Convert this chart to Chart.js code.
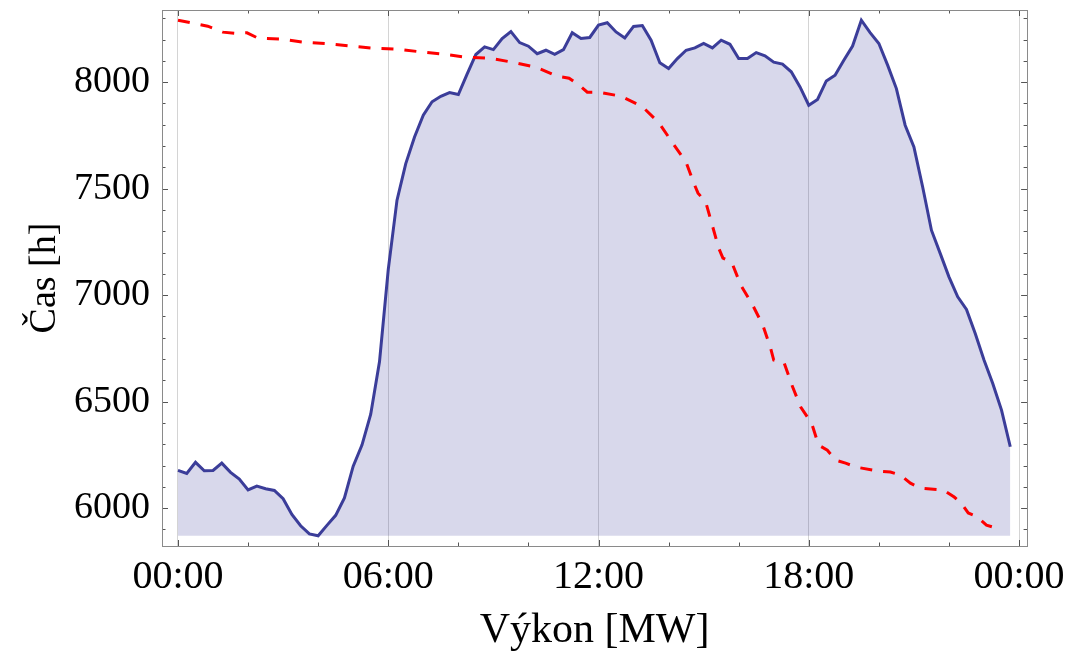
<!DOCTYPE html>
<html>
<head>
<meta charset="utf-8">
<script src="https://cdn.jsdelivr.net/npm/chart.js@4/dist/chart.umd.min.js"></script>
<style>
  html, body { margin: 0; padding: 0; background: #fff; }
  #wrap { width: 1072px; height: 656px; position: relative; }
</style>
</head>
<body>
<div id="wrap"><canvas id="chart"></canvas></div>
<script>
/* ── Données ── */
// Courbe bleue : pas de 15 min sur 24 h
const blueValues = [
  6177, 6163, 6215, 6175, 6177, 6211, 6168, 6136, 6085, 6103, 6091, 6083,
  6044, 5970, 5917, 5879, 5870, 5919, 5966, 6048, 6197, 6296, 6441, 6687,
  7120, 7446, 7618, 7743, 7845, 7908, 7934, 7951, 7942, 8038, 8130, 8166,
  8153, 8205, 8238, 8186, 8169, 8134, 8150, 8131, 8153, 8232, 8205, 8210,
  8268, 8279, 8236, 8208, 8262, 8266, 8197, 8091, 8064, 8111, 8150, 8161,
  8182, 8161, 8197, 8178, 8111, 8111, 8139, 8124, 8094, 8085, 8049, 7978,
  7892, 7919, 8006, 8033, 8103, 8170, 8291, 8233, 8182, 8080, 7970, 7798,
  7696, 7508, 7305, 7196, 7086, 6992, 6933, 6820, 6695, 6585, 6460, 6288
];
const blueStep = 0.25; // h
const blueHours = blueValues.map((_, i) => i * blueStep);

// Courbe rouge (pointillés)
const redHours = [
  0, 0.85, 1.28, 1.62, 1.97, 2.28, 2.93, 3.59, 4.24, 4.95,
  5.55, 6.26, 6.89, 7.60, 8.23, 8.88, 9.54, 10.22, 10.82, 11.16,
  11.45, 11.68, 12.02, 12.64, 13.24, 13.73, 14.10, 14.50, 14.72, 14.84,
  15.06, 15.43, 15.55, 15.80, 16.06, 16.40, 16.69, 16.91, 17.00, 17.29,
  17.52, 17.77, 18.08, 18.28, 18.53, 18.77, 19.05, 19.36, 19.99, 20.33,
  20.62, 20.90, 21.19, 21.84, 22.15, 22.35, 22.55, 22.78, 23.07, 23.35
];
const redValues = [
  8291, 8263, 8235, 8230, 8232, 8207, 8202, 8188, 8181, 8169,
  8160, 8155, 8143, 8131, 8117, 8113, 8094, 8070, 8028, 8019,
  7986, 7953, 7953, 7934, 7887, 7808, 7718, 7624, 7526, 7479,
  7437, 7221, 7174, 7155, 7047, 6953, 6859, 6751, 6695, 6685,
  6577, 6474, 6399, 6296, 6272, 6225, 6211, 6192, 6174, 6169,
  6155, 6117, 6094, 6085, 6052, 6023, 5977, 5962, 5920, 5906
];

// Axes
const xTickValues = [0, 6, 12, 18, 24];
const xTickLabels = ['00:00', '06:00', '12:00', '18:00', '00:00'];
const xMinorStep = 2;
const yTickValues = [6000, 6500, 7000, 7500, 8000];
const yMinorStep = 100;
const xTitle = 'Výkon [MW]';
const yTitle = 'Čas [h]';

const COLORS = {
  blue: '#3b3d99',
  blueFill: 'rgba(61,61,153,0.2)',
  red: '#ff0000',
  grid: '#d4d4d4',
  frame: '#8a8a8a',
  ticks: '#555',
  text: '#000',
};
const FONT = "'Liberation Serif', 'Times New Roman', serif";

/* ── Cadre + graduations vers l'intérieur ── */
const framePlugin = {
  id: 'frame',
  afterDatasetsDraw(chart) {
    const { ctx, chartArea: a, scales: { x, y } } = chart;
    ctx.save();
    ctx.strokeStyle = COLORS.ticks;
    ctx.lineWidth = 1;
    ctx.beginPath();
    for (let v = Math.ceil(x.min / xMinorStep) * xMinorStep; v <= x.max; v += xMinorStep) {
      const px = Math.round(x.getPixelForValue(v)) + 0.5;
      const len = xTickValues.includes(v) ? 6 : 3.5;
      ctx.moveTo(px, a.bottom); ctx.lineTo(px, a.bottom - len);
      ctx.moveTo(px, a.top); ctx.lineTo(px, a.top + len);
    }
    for (let v = Math.ceil(y.min / yMinorStep) * yMinorStep; v <= y.max; v += yMinorStep) {
      const py = Math.round(y.getPixelForValue(v)) + 0.5;
      const len = yTickValues.includes(v) ? 6 : 3.5;
      ctx.moveTo(a.left, py); ctx.lineTo(a.left + len, py);
      ctx.moveTo(a.right, py); ctx.lineTo(a.right - len, py);
    }
    ctx.stroke();
    ctx.strokeStyle = COLORS.frame;
    ctx.strokeRect(Math.round(a.left) + 0.5, Math.round(a.top) + 0.5,
      Math.round(a.right - a.left), Math.round(a.bottom - a.top));
    ctx.restore();
  }
};

/* ── Graphique ── */
new Chart(document.getElementById('chart'), {
  type: 'line',
  data: {
    datasets: [
      {
        label: 'rouge',
        data: redHours.map((h, i) => ({ x: h, y: redValues[i] })),
        borderColor: COLORS.red,
        borderWidth: 3,
        borderDash: [12, 11],
        pointRadius: 0,
        fill: false,
        tension: 0,
      },
      {
        label: 'bleu',
        data: blueHours.map((h, i) => ({ x: h, y: blueValues[i] })),
        borderColor: COLORS.blue,
        backgroundColor: COLORS.blueFill,
        borderWidth: 3,
        pointRadius: 0,
        fill: { value: Math.min(...blueValues) },
        tension: 0,
      }
    ]
  },
  options: {
    responsive: true,
    maintainAspectRatio: false,
    animation: false,
    layout: { padding: { top: 10, right: 43, left: 0, bottom: 0 } },
    plugins: { legend: { display: false }, tooltip: { enabled: false } },
    scales: {
      x: {
        type: 'linear',
        min: -0.456,
        max: 24.23,
        afterBuildTicks: (s) => { s.ticks = xTickValues.map(v => ({ value: v })); },
        afterFit: (s) => { s.height = 110; },
        border: { display: false },
        grid: {
          drawTicks: false,
          color: COLORS.grid,
          lineWidth: 1,
        },
        ticks: {
          autoSkip: false,
          maxRotation: 0,
          padding: 7,
          color: COLORS.text,
          font: { family: FONT, size: 40 },
          callback: (v) => xTickLabels[xTickValues.indexOf(v)],
        },
        title: {
          display: true,
          text: xTitle,
          color: COLORS.text,
          font: { family: FONT, size: 42 },
          padding: { top: 0, bottom: 0 },
        },
      },
      y: {
        min: 5822,
        max: 8339,
        afterBuildTicks: (s) => { s.ticks = yTickValues.map(v => ({ value: v })); },
        afterFit: (s) => {
          s.width = 162;
          s.paddingTop = 0;
          s.paddingBottom = 0;
        },
        border: { display: false },
        grid: { display: false, drawTicks: false },
        ticks: {
          padding: 12,
          color: COLORS.text,
          font: { family: FONT, size: 38 },
          callback: (v) => String(v),
        },
        title: {
          display: true,
          text: yTitle,
          color: COLORS.text,
          font: { family: FONT, size: 38 },
          padding: { top: 22, bottom: 0 },
        },
      }
    }
  },
  plugins: [framePlugin]
});
</script>
</body>
</html>
